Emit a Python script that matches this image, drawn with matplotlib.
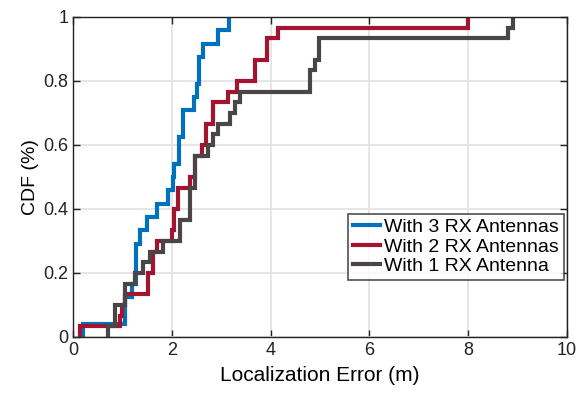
import matplotlib
matplotlib.use("Agg")
import matplotlib.pyplot as plt
import numpy as np

plt.rcParams['font.family'] = ['Liberation Sans', 'DejaVu Sans']

# localization errors (m), sorted
err_3rx = [0.2, 1.05, 1.05, 1.2, 1.27, 1.27, 1.27, 1.36, 1.5, 1.7, 1.93, 2.02,
           2.05, 2.15, 2.15, 2.23, 2.23, 2.45, 2.5, 2.55, 2.55, 2.63, 2.94, 3.16]
err_2rx = [0.15, 0.95, 1.0, 1.05, 1.52, 1.52, 1.62, 1.62, 1.7, 2.0, 2.05, 2.05,
           2.13, 2.13, 2.37, 2.47, 2.47, 2.61, 2.69, 2.69, 2.84, 2.84, 3.14, 3.31,
           3.68, 3.68, 3.92, 3.92, 4.15, 8.0]
err_1rx = [0.71, 0.85, 0.85, 1.05, 1.05, 1.26, 1.41, 1.56, 1.82, 2.17, 2.17, 2.37,
           2.37, 2.37, 2.47, 2.47, 2.47, 2.73, 2.83, 2.94, 3.18, 3.28, 3.38, 4.8,
           4.8, 4.9, 4.98, 4.98, 8.8, 8.9]

labels = ["With 3 RX Antennas", "With 2 RX Antennas", "With 1 RX Antenna"]
colors = ["#0072BD", "#A2142F", "#4A4648"]

fig = plt.figure(figsize=(5.84, 3.95), dpi=100)
ax = fig.add_axes([0.125, 0.147, 0.846, 0.81])

for err, lab, c in zip([err_3rx, err_2rx, err_1rx], labels, colors):
    v = np.sort(np.array(err))
    n = len(v)
    xs = np.concatenate([[v[0]], v])
    ys = np.arange(n + 1) / n
    ax.step(xs, ys, where="post", color=c, lw=3, label=lab,
            solid_joinstyle="miter")

ax.set_xlim(0, 10)
ax.set_ylim(0, 1)
ax.set_xticks([0, 2, 4, 6, 8, 10])
ax.set_yticks([0, 0.2, 0.4, 0.6, 0.8, 1])
ax.set_yticklabels(["0", "0.2", "0.4", "0.6", "0.8", "1"])
ax.grid(True, color="#e3e3e3", lw=1.3)
ax.set_axisbelow(True)
ax.tick_params(direction="in", top=True, right=True, length=5, width=1,
               labelsize=13, colors="#222222")
for s in ax.spines.values():
    s.set_color("#222222")
    s.set_linewidth(1)

ax.set_xlabel("Localization Error (m)", fontsize=15, labelpad=5)
ax.set_ylabel("CDF (%)", fontsize=14, labelpad=3)

leg = ax.legend(loc="lower right", bbox_to_anchor=(0.993, 0.178), fontsize=14,
                frameon=True, fancybox=False, edgecolor="#222222",
                handlelength=1.4, handletextpad=0.2, borderpad=0.25,
                labelspacing=0.1, borderaxespad=0)
leg.get_frame().set_linewidth(1.2)

fig.savefig("out.png", dpi=100)
